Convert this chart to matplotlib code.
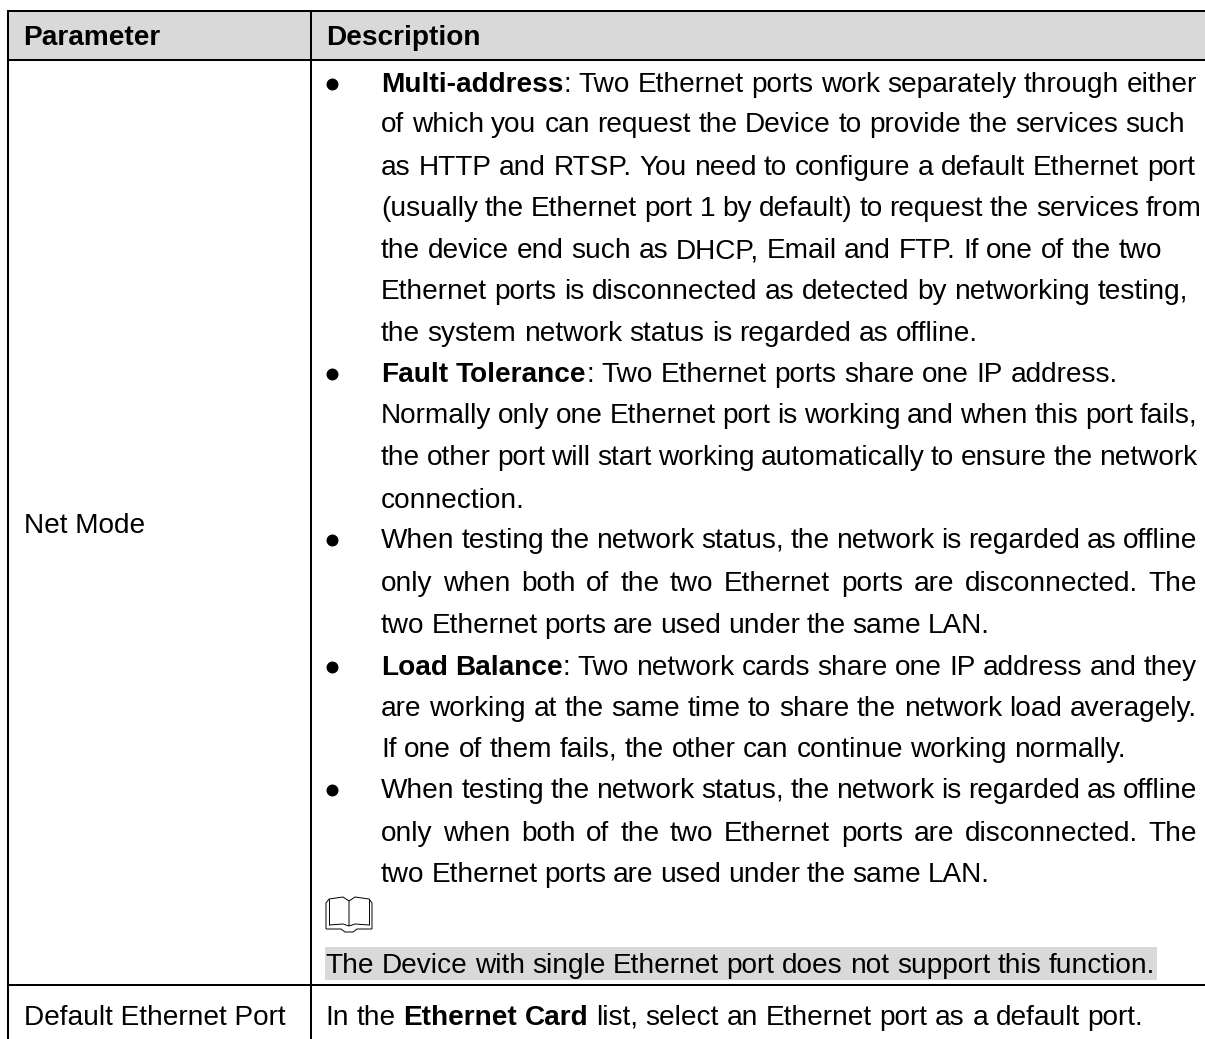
import matplotlib
matplotlib.use("Agg")
import matplotlib.pyplot as plt
from matplotlib.font_manager import FontProperties
from matplotlib.patches import Rectangle, PathPatch
from matplotlib.path import Path

W, H = 1205, 1039
FS = 20.16
FAMILY = ['Liberation Sans', 'DejaVu Sans']
plt.rcParams['font.family'] = FAMILY

header_labels = ["Parameter", "Description"]
row_labels = ["Net Mode", "Default Ethernet Port"]

# each line: bullet flag, list of (text, bold) runs
body_lines = [
    (True,  [("Multi-address", True), (": Two Ethernet ports work separately through either", False)]),
    (False, [("of which you can request the Device to provide the services such", False)]),
    (False, [("as HTTP and RTSP. You need to configure a default Ethernet port", False)]),
    (False, [("(usually the Ethernet port 1 by default) to request the services from", False)]),
    (False, [("the device end such as DHCP, Email and FTP. If one of the two", False)]),
    (False, [("Ethernet ports is disconnected as detected by networking testing,", False)]),
    (False, [("the system network status is regarded as offline.", False)]),
    (True,  [("Fault Tolerance", True), (": Two Ethernet ports share one IP address.", False)]),
    (False, [("Normally only one Ethernet port is working and when this port fails,", False)]),
    (False, [("the other port will start working automatically to ensure the network", False)]),
    (False, [("connection.", False)]),
    (True,  [("When testing the network status, the network is regarded as offline", False)]),
    (False, [("only when both of the two Ethernet ports are disconnected. The", False)]),
    (False, [("two Ethernet ports are used under the same LAN.", False)]),
    (True,  [("Load Balance", True), (": Two network cards share one IP address and they", False)]),
    (False, [("are working at the same time to share the network load averagely.", False)]),
    (False, [("If one of them fails, the other can continue working normally.", False)]),
    (True,  [("When testing the network status, the network is regarded as offline", False)]),
    (False, [("only when both of the two Ethernet ports are disconnected. The", False)]),
    (False, [("two Ethernet ports are used under the same LAN.", False)]),
]
note_text = "The Device with single Ethernet port does not support this function."
last_runs = [("In the ", False), ("Ethernet Card", True), (" list, select an Ethernet port as a default port.", False)]

# layout of the body lines, in pixels
line_base = [92, 132, 175, 216, 258, 299, 341, 382, 423, 465, 508, 548, 591, 633, 675, 716, 757, 798, 841, 882]
line_right = [1197, 1185, 1195, 1202, 1162, 1188, 978, 1118, 1197, 1197, 522, 1197, 1197, 990, 1197, 1197, 1126, 1197, 1197, 990]

fig = plt.figure(figsize=(W/100, H/100), dpi=100, facecolor='white')
ax = fig.add_axes([0, 0, 1, 1])
ax.set_xlim(0, W); ax.set_ylim(H, 0); ax.axis('off')
rend = fig.canvas.get_renderer()

def tw(s, bold):
    fp = FontProperties(family=FAMILY, size=FS, weight='bold' if bold else 'normal')
    return rend.get_text_width_height_descent(s, fp, False)[0]

SPACE = FS * 100 / 72 * 0.278

def put(x, base, s, bold=False):
    return ax.text(x, round(base), s, fontsize=FS, fontweight='bold' if bold else 'normal',
                   va='baseline', ha='left', color='black')

def draw_runs(x0, base, runs, right=None):
    toks = []
    for s, b in runs:
        parts = s.split(' ')
        for i, p in enumerate(parts):
            if i > 0:
                toks.append((None, b))
            if p:
                toks.append((p, b))
    widths = [SPACE if p is None else tw(p, b) for p, b in toks]
    nsp = sum(1 for p, _ in toks if p is None)
    extra = (right - x0 - sum(widths)) / nsp if (right and nsp) else 0
    x = x0
    for (p, b), w in zip(toks, widths):
        if p is None:
            x += w + extra
        else:
            put(x, base, p, b)
            x += w

ax.add_patch(Rectangle((8, 11), W - 8, 49, fc='#d9d9d9', ec='none', zorder=0))
ax.add_patch(Rectangle((325, 947), 1157 - 325, 33, fc='#d9d9d9', ec='none', zorder=0))

LW = 1.45
for y in (11, 60, 985):
    ax.plot([7, W], [y, y], color='black', lw=LW, solid_capstyle='butt')
for x in (8, 311):
    ax.plot([x, x], [10, H], color='black', lw=LW, solid_capstyle='butt')

put(23.5, 45, header_labels[0], True)
put(326, 45, header_labels[1], True)
put(23.5, 533, row_labels[0])
put(23.5, 1025, row_labels[1])

for (bullet, runs), base, right in zip(body_lines, line_base, line_right):
    if bullet:
        ax.plot([332.3], [base - 8], 'o', color='black', ms=8.6, mew=0)
    draw_runs(381, base, runs, right)

# book icon
bx = dict(fc='none', ec='black', lw=0.7)
L, R, M = 326, 372, 349
T, B = 899, 926
def P(verts):
    codes = [Path.MOVETO] + [Path.LINETO] * (len(verts) - 1)
    ax.add_patch(PathPatch(Path(verts, codes), **bx))
P([(L, B + 3), (L, T + 4), (L + 3, T), (M - 6, T - 2), (M, T + 2), (M, B)])
P([(R, B + 3), (R, T + 4), (R - 3, T), (M + 6, T - 2), (M, T + 2)])
P([(L + 3, B - 1), (L + 3, T)])
P([(R - 3, B - 1), (R - 3, T)])
P([(L + 3, B - 1), (M - 6, B - 2), (M, B)])
P([(R - 3, B - 1), (M + 6, B - 2), (M, B)])
P([(L, B + 3), (M - 8, B + 3), (M - 4, B + 6), (M + 4, B + 6), (M + 8, B + 3), (R, B + 3)])

draw_runs(325.5, 973, [(note_text, False)], 1155)
draw_runs(325.5, 1025, last_runs, 1143)

fig.savefig('out.png', dpi=100, facecolor='white')
